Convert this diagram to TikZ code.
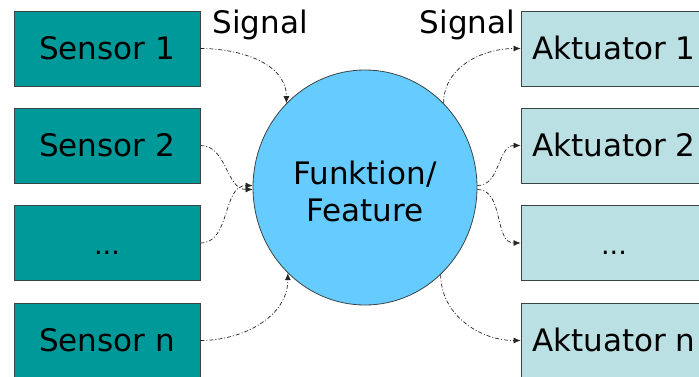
\documentclass[tikz,border=0pt]{standalone}
\usepackage{fontspec}
\setmainfont{DejaVu Sans}
\usetikzlibrary{shapes.geometric,arrows.meta}
\definecolor{sensorfill}{HTML}{009999}
\definecolor{aktfill}{HTML}{BBE0E3}
\definecolor{funcfill}{HTML}{66CCFF}
\definecolor{edgecol}{HTML}{3A4646}
\definecolor{sigcol}{HTML}{262626}
\begin{document}
\begin{tikzpicture}[x=1pt,y=1pt,
  bigfont/.style={font=\fontsize{31}{37}\selectfont},
  box/.style={draw=edgecol, line width=0.8pt, minimum width=186pt, minimum height=75pt,
    inner sep=0pt, bigfont, text height=22.6pt, text depth=0pt},
  sensor/.style={box, fill=sensorfill},
  akt/.style={box, fill=aktfill},
  dotsbox/.style={font=\fontsize{27}{32}\selectfont},
  func/.style={ellipse, draw=edgecol, line width=0.8pt, fill=funcfill,
    minimum width=224pt, minimum height=235pt, inner sep=0pt},
  functext/.style={bigfont, align=center, inner sep=0pt},
  sig/.style={-{Latex[length=7pt,width=6pt]}, draw=sigcol, line width=0.7pt,
    dash pattern=on 4pt off 2pt on 1pt off 2pt},
  lbl/.style={bigfont, anchor=base, inner sep=0pt}]
\useasboundingbox (0,0) rectangle (699,376);
\clip (0,0) rectangle (699,376);
\fill[white] (0,0) rectangle (699,376);

\node[sensor] (s1) at (107,327.5) {Sensor 1};
\node[sensor] (s2) at (107,230.5) {Sensor 2};
\node[sensor, dotsbox] (s3) at (107,133) {...};
\node[sensor] (sn) at (107,35.5) {Sensor n};

\node[akt] (a1) at (614,327.5) {Aktuator 1};
\node[akt] (a2) at (614,230.5) {Aktuator 2};
\node[akt, dotsbox] (a3) at (614,133) {...};
\node[akt] (an) at (614,35.5) {Aktuator n};

\node[func] (F) at (365,188.5) {};
\node[functext] (Ft) at (365,185) {Funktion/\\Feature};

\node[lbl] (sigL) at (260,343) {Signal};
\node[lbl] (sigR) at (467.5,343) {Signal};

\draw[sig] (s1.east) to[out=0,in=90] (F.133);
\draw[sig] (s2.east) to[out=0,in=180] (F.181);
\draw[sig] (s3.east) to[out=0,in=180] (F.179);
\draw[sig] (sn.east) to[out=0,in=-90] (F.228);

\draw[sig] (F.47) to[out=90,in=180] (a1.west);
\draw[sig] (F.1) to[out=0,in=180] (a2.west);
\draw[sig] (F.-1) to[out=0,in=180] (a3.west);
\draw[sig] (F.311) to[out=-90,in=180] (an.west);
\end{tikzpicture}
\end{document}
